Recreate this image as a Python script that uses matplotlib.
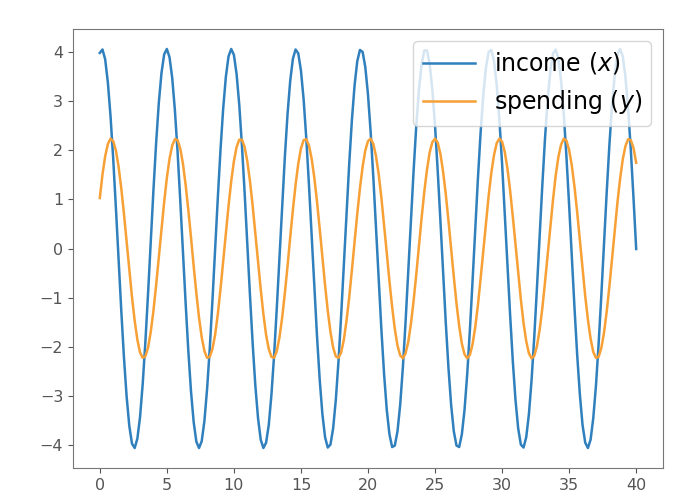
import numpy as np
import matplotlib
matplotlib.use("Agg")
import matplotlib.pyplot as plt

# time span of the simulation (samples every 0.2)
t_start, t_end = 0, 40

# income (x), in hundredths
income_x100 = [
    399, 406, 386, 339, 270, 183, 83, -22, -126, -222,
    -302, -362, -398, -407, -388, -344, -276, -190, -91, 15,
    119, 215, 297, 358, 396, 407, 390, 348, 282, 197,
    98, -7, -111, -208, -291, -354, -394, -407, -393, -352,
    -287, -204, -106, -1, 103, 201, 285, 350, 392, 407,
    395, 356, 293, 210, 114, 9, -96, -194, -280, -346,
    -390, -407, -396, -360, -298, -217, -121, -17, 88, 187,
    274, 342, 387, 406, 398, 363, 304, 224, 129, 25,
    -80, -180, -268, -338, -385, -406, -400, -367, -309, -230,
    -136, -33, 72, 173, 262, 333, 382, 405, 401, 370,
    314, 237, 144, 41, -65, -166, -256, -329, -379, -405,
    -402, -373, -319, -243, -151, -49, 57, 158, 250, 324,
    376, 404, 404, 376, 324, 250, 158, 57, -49, -151,
    -243, -319, -373, -402, -405, -379, -329, -256, -166, -65,
    41, 144, 237, 314, 370, 401, 405, 382, 333, 262,
    173, 72, -33, -136, -230, -309, -367, -400, -406, -385,
    -338, -268, -180, -80, 25, 129, 224, 304, 363, 398,
    406, 387, 342, 274, 187, 88, -17, -121, -217, -298,
    -360, -396, -407, -390, -346, -280, -194, -96, 9, 114,
    210, 293, 356, 395, 407, 392, 350, 285, 201, 103,
    -1,
]

# spending (y), in hundredths
spending_x100 = [
    103, 151, 188, 213, 224, 219, 200, 167, 123, 71,
    14, -44, -99, -147, -186, -212, -223, -220, -202, -170,
    -127, -75, -18, 40, 95, 144, 183, 210, 223, 221,
    204, 173, 130, 79, 23, -36, -91, -141, -181, -209,
    -223, -221, -205, -176, -134, -83, -27, 31, 87, 137,
    178, 207, 222, 222, 207, 178, 137, 87, 31, -27,
    -83, -134, -176, -205, -221, -223, -209, -181, -141, -91,
    -36, 23, 79, 130, 173, 204, 221, 223, 210, 183,
    144, 95, 40, -18, -75, -127, -170, -202, -220, -223,
    -212, -186, -147, -99, -44, 14, 71, 123, 167, 200,
    219, 224, 213, 188, 151, 103, 48, -9, -67, -119,
    -164, -198, -218, -224, -214, -191, -154, -107, -53, 5,
    63, 116, 161, 196, 217, 224, 216, 193, 157, 111,
    57, -1, -58, -112, -158, -194, -216, -224, -217, -195,
    -160, -115, -61, -4, 54, 108, 155, 191, 215, 224,
    218, 197, 163, 118, 65, 8, -50, -104, -152, -189,
    -214, -224, -219, -199, -166, -122, -69, -12, 46, 100,
    149, 187, 212, 224, 220, 201, 169, 126, 74, 17,
    -41, -97, -145, -184, -211, -223, -221, -203, -172, -129,
    -78, -21, 37, 93, 142, 182, 209, 223, 221, 205,
    175,
]

series_labels = ['income ($x$)', 'spending ($y$)']

income = np.array(income_x100) / 100.0
spending = np.array(spending_x100) / 100.0
t = np.linspace(t_start, t_end, len(income))

fig = plt.figure(figsize=(6.84, 4.97), dpi=100)
ax = fig.add_axes([0.1067, 0.0584, 0.8626, 0.8832])
ax.plot(t, income, lw=1.8, color='#3080bd', label=series_labels[0])
ax.plot(t, spending, lw=1.8, color='#f7a035', label=series_labels[1])
ax.tick_params(labelsize=11.5, colors='#555555')
for s in ax.spines.values():
    s.set_color('#777777')
ax.legend(loc='upper right', fontsize=17, handlelength=2.2)
fig.savefig('out.png', dpi=100)
